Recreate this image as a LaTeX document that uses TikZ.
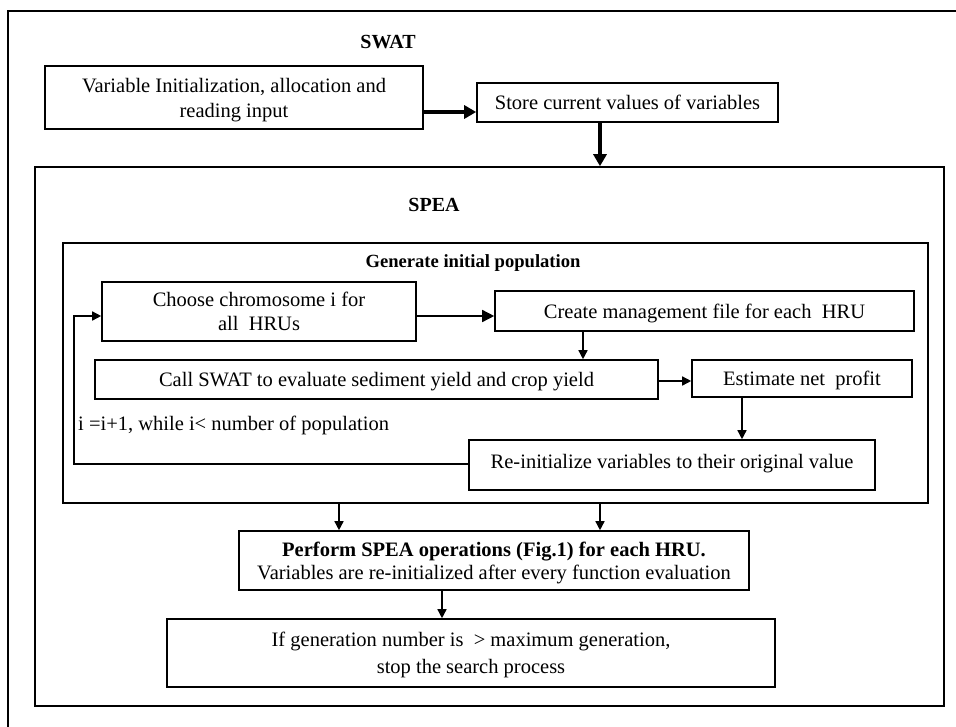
\documentclass[tikz,border=0pt]{standalone}
\usepackage{fontspec}
\setmainfont{Liberation Serif}
\usetikzlibrary{arrows.meta}
\begin{document}
\begin{tikzpicture}[x=1pt,y=-1pt,
  box/.style={draw, line width=1.6pt, rectangle, inner sep=0pt, align=center,
    text depth=0pt, font=\fontsize{20.5}{24.5}\selectfont},
  frame/.style={draw, line width=1.6pt, rectangle, inner sep=0pt},
  lbl/.style={inner sep=0pt, font=\fontsize{20.5}{24.5}\selectfont},
  thin/.style={line width=1.5pt, -{Triangle[length=9pt,width=9pt]}},
  bigtip/.style={line width=1.5pt, -{Triangle[length=12pt,width=12pt]}},
  heavy/.style={line width=3.8pt, -{Triangle[length=12pt,width=13pt]}}]
\useasboundingbox (0,0) rectangle (956,726);
\begin{scope}
\clip (0,0) rectangle (956,726);
% outer frame (extends past the picture)
\draw[line width=1.6pt] (990,11) -- (8,11) -- (8,760);
\end{scope}
\node[lbl, font=\fontsize{20}{24}\selectfont\bfseries] (swat) at (388,42) {SWAT};
\node[box, minimum width=378pt, minimum height=63pt, font=\fontsize{20.5}{25}\selectfont] (b1) at (234,97.5)
  {Variable Initialization, allocation and\\reading input};
\node[box, minimum width=301pt, minimum height=39pt] (b2) at (627.5,102.5)
  {Store current values of variables};
\node[frame, minimum width=909pt, minimum height=539pt] (spea) at (489.5,436.5) {};
\node[lbl, font=\fontsize{20}{24}\selectfont\bfseries] (spealbl) at (434,205) {SPEA};
\node[frame, minimum width=865pt, minimum height=260pt] (inner) at (495.5,373) {};
\node[lbl, font=\fontsize{18.6}{22}\selectfont\bfseries] (genlbl) at (473,263) {Generate initial population};
\node[box, minimum width=314pt, minimum height=59pt, font=\fontsize{20.5}{24}\selectfont] (choose) at (259,311.5)
  {Choose chromosome i for\\all\ \ HRUs};
\node[box, minimum width=419pt, minimum height=40pt] (create) at (704.5,311)
  {Create management file for each\ \ HRU};
\node[box, minimum width=563pt, minimum height=39pt] (call) at (376.5,379.5)
  {Call SWAT to evaluate sediment yield and crop yield};
\node[box, minimum width=220pt, minimum height=37pt] (est) at (802,378.5)
  {Estimate net\ \ profit};
\node[box, minimum width=406pt, minimum height=50pt, text depth=8pt] (reinit) at (672,465)
  {Re-initialize variables to their original value};
\node[lbl, anchor=west] (looplbl) at (78,425) {i =i+1, while i< number of population};
\node[box, minimum width=510pt, minimum height=59pt, font=\fontsize{20.5}{23}\selectfont] (perform) at (494,560.5)
  {\textbf{Perform SPEA operations (Fig.1) for each HRU.}\\Variables are re-initialized after every function evaluation};
\node[box, minimum width=608pt, minimum height=68pt, font=\fontsize{20.5}{27}\selectfont] (ifb) at (471,653)
  {If generation number is\ \ {>} maximum generation,\\stop the search process};
\coordinate (loopc) at (74,464);
% connectors
\draw[heavy] (b1.east |- 0,112) -- (b2.west |- 0,112);
\draw[heavy] (b2.south -| 600,0) -- (spea.north -| 600,0);
\draw[bigtip] (choose.east |- 0,316) -- (create.west |- 0,316);
\draw[thin] (create.south -| 583,0) -- (call.north -| 583,0);
\draw[thin] (call.east |- 0,381) -- (est.west |- 0,381);
\draw[thin] (est.south -| 742,0) -- (reinit.north -| 742,0);
\draw[thin] (reinit.west |- loopc) -- (loopc) |- (choose.west |- 0,316);
\draw[thin] (inner.south -| 339,0) -- (perform.north -| 339,0);
\draw[thin] (inner.south -| 600,0) -- (perform.north -| 600,0);
\draw[thin] (perform.south -| 442,0) -- (ifb.north -| 442,0);
\end{tikzpicture}
\end{document}
